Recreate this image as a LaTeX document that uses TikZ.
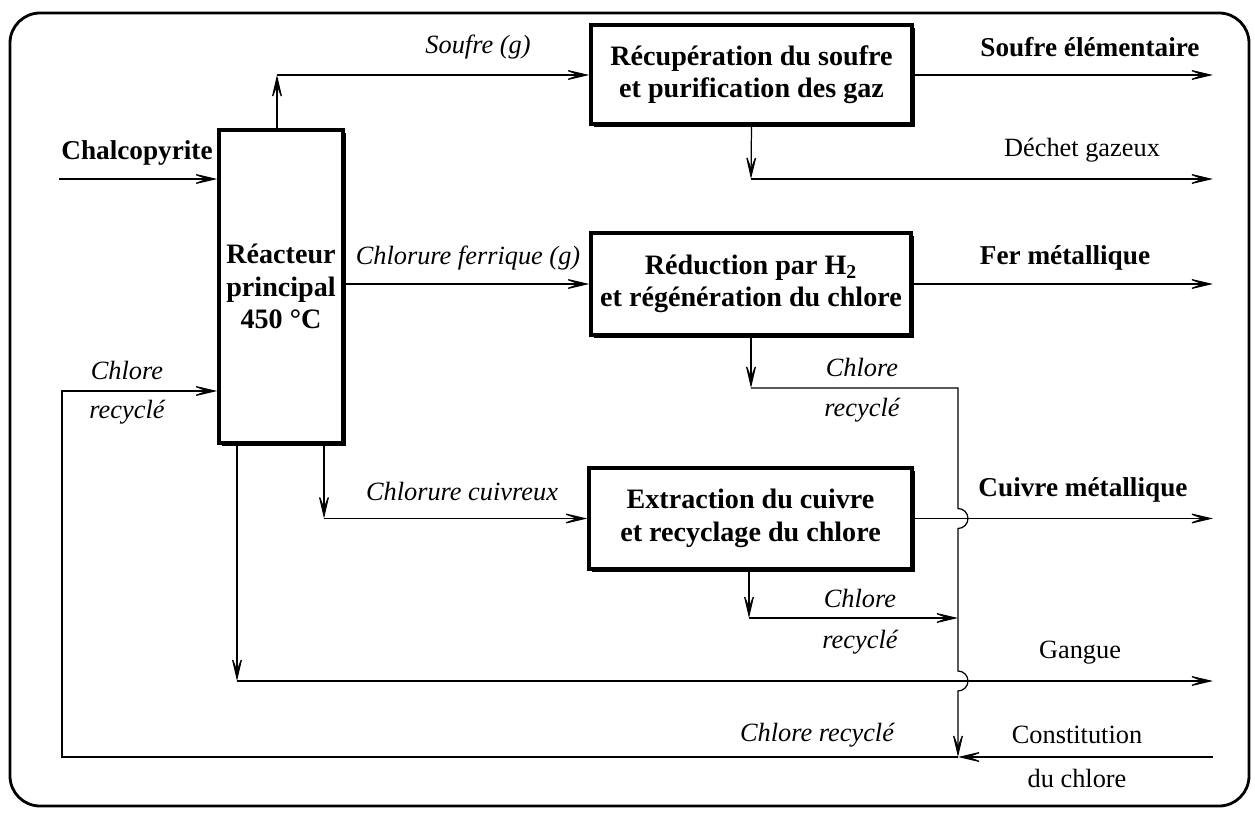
\documentclass[tikz,border=0pt]{standalone}
\usepackage{fontspec}
\setmainfont{Liberation Serif}
\usetikzlibrary{arrows.meta,positioning,shadows}

\begin{document}
\begin{tikzpicture}[x = 0.02cm, y = -0.02cm, > = {Stealth[length = 17pt, width = 8pt, inset = 10.5pt]}, font = \fontsize{15}{18}\selectfont, line width = 0.7pt]
    \tikzset{
      unit/.style = {draw, fill = white, line width = 2pt, align = center, inner sep = 0pt,
        font = \fontsize{16}{18.5}\selectfont\bfseries,
        drop shadow = {shadow xshift = 1.8pt, shadow yshift = -1.8pt, fill = black, opacity = 1}},
      stream/.style = {font = \fontsize{15}{18}\selectfont\itshape},
      product/.style = {font = \fontsize{15.5}{18}\selectfont\bfseries},
    }
    \useasboundingbox (0, 0) rectangle (1255, 812);
    \draw [line width = 1.6pt, rounded corners = 0.6cm] (10, 13) rectangle (1249, 806);

    % process units
    \node [unit, minimum width = 2.48cm, minimum height = 6.26cm] (reactor) at (281, 286.5) {R\'eacteur\\principal\\450~°C};
    \node [unit, minimum width = 6.42cm, minimum height = 1.98cm] (soufre) at (751.5, 74.5) {R\'ecup\'eration du soufre\\et purification des gaz};
    \node [unit, minimum width = 6.4cm, minimum height = 2.04cm] (fer) at (751, 284) {R\'eduction par H\textsubscript{2}\\et r\'eg\'en\'eration du chlore};
    \node [unit, minimum width = 6.46cm, minimum height = 2.02cm] (cuivre) at (750.5, 518.5) {Extraction du cuivre\\et recyclage du chlore};

    % bends and free ends
    \coordinate (chalco) at (59, 179);
    \coordinate (soufreup) at (277, 75);
    \coordinate (soufreend) at (1213, 75);
    \coordinate (dechet) at (751, 179);
    \coordinate (dechetend) at (1213, 179);
    \coordinate (ferend) at (1213, 284);
    \coordinate (chlore1) at (751, 388);
    \coordinate (bus) at (958, 388);
    \coordinate (cudown) at (324, 518.5);
    \coordinate (cuend) at (1213, 518.5);
    \coordinate (chlore2) at (749, 618);
    \coordinate (chlore2end) at (958, 618);
    \coordinate (gangue) at (237, 681);
    \coordinate (gangueend) at (1213, 681);
    \coordinate (merge) at (958, 757);
    \coordinate (appoint) at (1213, 757);
    \coordinate (back) at (62, 757);
    \coordinate (backup) at (62, 391);

    \draw [->] (chalco) -- (chalco -| reactor.west);
    \draw [->] (reactor.north -| soufreup) -- (soufreup);
    \draw [->] (soufreup) -- (soufreup -| soufre.west);
    \draw [->] (soufre.east |- soufreend) -- (soufreend);
    \draw [->] (soufre.south) -- (dechet);
    \draw [->] (dechet) -- (dechetend);

    \draw [->] (reactor.east |- fer.west) -- (fer.west);
    \draw [->] (fer.east) -- (ferend);
    \draw [->] (fer.south) -- (chlore1);
    \draw [->] (chlore1) -- (bus) -- (958, 508.5) arc [start angle = 90, end angle = -90, radius = 0.2cm]
      -- (958, 671) arc [start angle = 90, end angle = -90, radius = 0.2cm] -- (merge);

    \draw [->] (reactor.south -| cudown) -- (cudown);
    \draw [->] (cudown) -- (cuivre.west);
    \draw [->] (cuivre.east) -- (cuend);
    \draw [->] (cuivre.south -| chlore2) -- (chlore2);
    \draw [->] (chlore2) -- (chlore2end);

    \draw [->] (reactor.south -| gangue) -- (gangue);
    \draw [->] (gangue) -- (gangueend);
    \draw [->] (appoint) -- (merge);
    \draw [->] (merge) -- (back) -- (backup) -- (backup -| reactor.west);

    % stream labels
    \node [product] (chalcolabel) at (137, 153) {Chalcopyrite};
    \node [stream] (soufregaz) at (478, 47) {Soufre (g)};
    \node [product] (soufreelem) at (1090, 47) {Soufre \'el\'ementaire};
    \node (dechetlabel) at (1082, 150) {D\'echet gazeux};
    \node [stream] (ferrique) at (468, 258) {Chlorure ferrique (g)};
    \node [product] (fermet) at (1065, 258) {Fer m\'etallique};
    \node [stream] (chloreA) at (862, 367) {Chlore};
    \node [stream] (recycleA) at (862, 410) {recycl\'e};
    \node [stream] (cuivreux) at (462, 492) {Chlorure cuivreux};
    \node [product] (cuivremet) at (1083, 490) {Cuivre m\'etallique};
    \node [stream] (chloreB) at (860, 598) {Chlore};
    \node [stream] (recycleB) at (860, 642) {recycl\'e};
    \node (ganguelabel) at (1080, 653) {Gangue};
    \node [stream] (chloreC) at (817, 735) {Chlore recycl\'e};
    \node (constit) at (1077, 735) {Constitution};
    \node (constitb) at (1077, 778) {du chlore};
    \node [stream] (chloreD) at (127, 370) {Chlore};
    \node [stream] (recycleD) at (127, 412) {recycl\'e};
  \end{tikzpicture}
\end{document}
